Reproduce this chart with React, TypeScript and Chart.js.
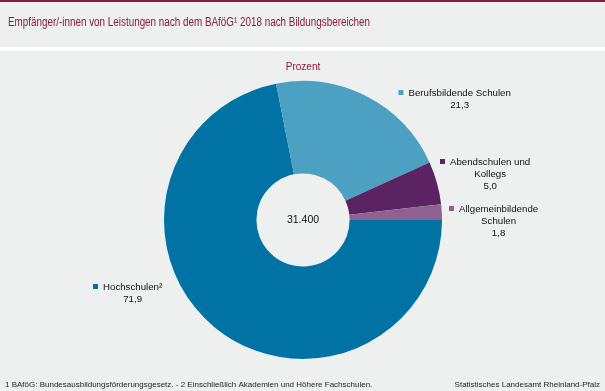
import { useEffect, useRef } from "react";
import { Chart, registerables } from "chart.js";
Chart.register(...registerables);

const categories = ["Hochschulen²", "Berufsbildende Schulen", "Abendschulen und Kollegs", "Allgemeinbildende Schulen"];
const labelLines = [["Hochschulen²"], ["Berufsbildende Schulen"], ["Abendschulen und", "Kollegs"], ["Allgemeinbildende", "Schulen"]];
const values = [71.9, 21.3, 5.0, 1.8];
const colors = ["#0073a4", "#4ca1c2", "#5b2361", "#8e6190"];
const totalText = "31.400";
const unitText = "Prozent";
const titleText = "Empfänger/-innen von Leistungen nach dem BAföG¹ 2018 nach Bildungsbereichen";
const footLeft = "1 BAföG: Bundesausbildungsförderungsgesetz. - 2 Einschließlich Akademien und Höhere Fachschulen.";
const footRight = "Statistisches Landesamt Rheinland-Pfalz";

// label anchor positions (marker x, first line y) in canvas pixels
const labelAnchors = [
  [95, 287],
  [400.5, 93],
  [442, 162],
  [451, 209],
];

const FONT = "'Liberation Sans', Arial, sans-serif";

function fillFit(ctx: CanvasRenderingContext2D, text: string, x: number, y: number, maxW: number, align: "left" | "right" = "left") {
  const w = ctx.measureText(text).width;
  const s = w > maxW ? maxW / w : 1;
  ctx.save();
  ctx.textAlign = "left";
  const startX = align === "left" ? x : x - w * s;
  ctx.translate(startX, y);
  ctx.scale(s, 1);
  ctx.fillText(text, 0, 0);
  ctx.restore();
}

const decor = {
  id: "decor",
  beforeDraw(chart: any) {
    const ctx = chart.ctx as CanvasRenderingContext2D;
    const W = chart.width, H = chart.height;
    ctx.save();
    ctx.fillStyle = "#eef0ef";
    ctx.fillRect(0, 0, W, H);
    ctx.fillStyle = "#8b1a3b";
    ctx.fillRect(0, 0, W, 2);
    ctx.fillStyle = "#ffffff";
    ctx.fillRect(0, 47, W, 4);
    ctx.fillStyle = "#8b1a3b";
    ctx.textBaseline = "alphabetic";
    ctx.font = `12px ${FONT}`;
    fillFit(ctx, titleText, 8, 26, 362);
    ctx.fillStyle = "#222";
    ctx.font = `8px ${FONT}`;
    fillFit(ctx, footLeft, 5, 387, 380);
    fillFit(ctx, footRight, 600, 387, 150, "right");
    ctx.restore();
  },
  afterDraw(chart: any) {
    const ctx = chart.ctx as CanvasRenderingContext2D;
    const meta = chart.getDatasetMeta(0);
    const arc = meta.data[0];
    const cx = arc.x, cy = arc.y;
    ctx.save();
    ctx.textBaseline = "middle";
    ctx.textAlign = "center";
    ctx.font = `10px ${FONT}`;
    ctx.fillStyle = "#8b1a3b";
    ctx.fillText(unitText, cx, 67);
    ctx.fillStyle = "#111";
    ctx.font = `10.5px ${FONT}`;
    ctx.fillText(totalText, cx, 220);
    ctx.font = `9.7px ${FONT}`;
    labelLines.forEach((lines, i) => {
      const [mx, my] = labelAnchors[i];
      ctx.fillStyle = colors[i];
      ctx.fillRect(mx - 2, my - 3, 5, 5);
      const left = mx + 8;
      const w0 = ctx.measureText(lines[0]).width;
      const tc = left + w0 / 2;
      ctx.fillStyle = "#111";
      const all = [...lines, values[i].toFixed(1).replace(".", ",")];
      all.forEach((t, j) => {
        ctx.fillText(t, tc, my + j * 12.3);
      });
    });
    ctx.restore();
  },
};

export default function App() {
  const ref = useRef<HTMLCanvasElement | null>(null);
  useEffect(() => {
    document.body.style.margin = "0";
    const chart = new Chart(ref.current!, {
      type: "doughnut",
      data: {
        labels: categories,
        datasets: [
          {
            data: values,
            backgroundColor: colors,
            borderWidth: 0,
          },
        ],
      },
      options: {
        animation: false,
        responsive: false,
        rotation: 90,
        cutout: "33.5%",
        layout: { padding: { left: 164, right: 163, top: 81, bottom: 32 } },
        plugins: {
          legend: { display: false },
          tooltip: { enabled: false },
          title: { display: false },
        },
      },
      plugins: [decor],
    });
    return () => chart.destroy();
  }, []);
  return <canvas ref={ref} width={605} height={391} style={{ display: "block" }} />;
}
